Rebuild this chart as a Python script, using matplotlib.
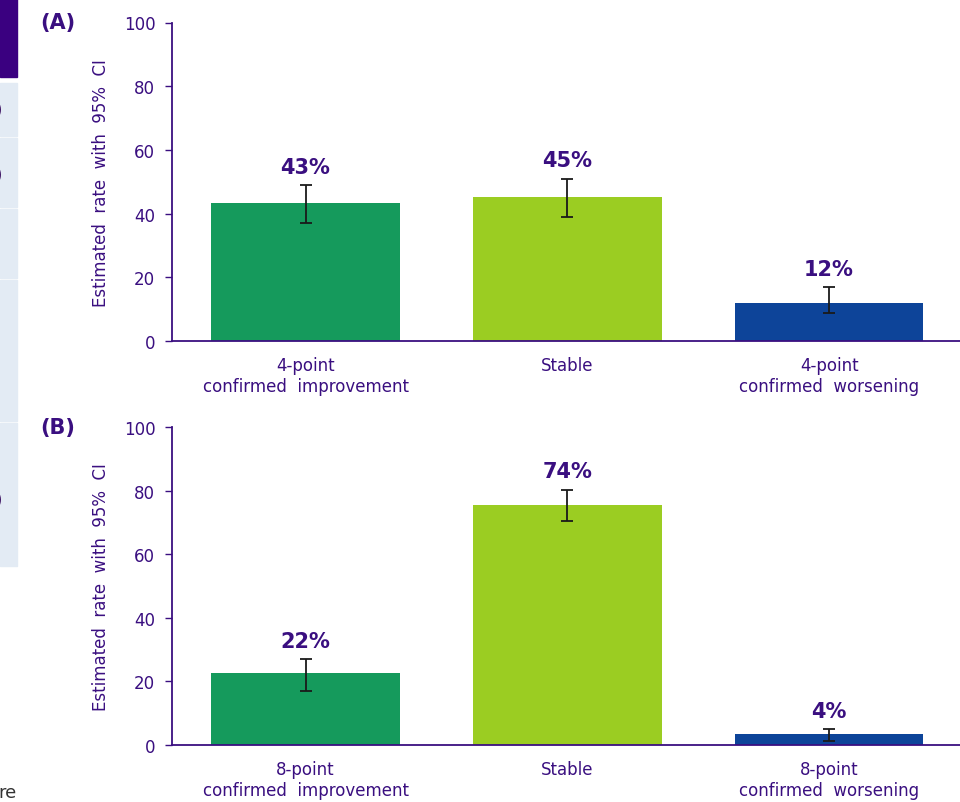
import matplotlib.pyplot as plt
from matplotlib.patches import Rectangle

# data
cats_a = ["4-point\nconfirmed  improvement", "Stable", "4-point\nconfirmed  worsening"]
cats_b = ["8-point\nconfirmed  improvement", "Stable", "8-point\nconfirmed  worsening"]
rate_a = [43.3, 45.2, 11.9]
low_a = [37.0, 39.0, 8.8]
high_a = [49.0, 51.0, 17.0]
lab_a = ["43%", "45%", "12%"]
rate_b = [22.5, 75.5, 3.4]
low_b = [17.0, 70.3, 1.4]
high_b = [27.0, 80.3, 5.0]
lab_b = ["22%", "74%", "4%"]

colors = ["#159a5c", "#9bcd22", "#0d4499"]
purple = "#3a0f80"

plt.rcParams['font.family'] = ['DejaVu Sans']

fig = plt.figure(figsize=(9.6, 8.03), dpi=100)

# fragments of the slide at the left edge
fig.patches.append(Rectangle((0, 1 - 78/803), 17/960, 78/803, transform=fig.transFigure,
                             color="#3a0080", zorder=0))
box_edges = [83, 138, 209, 280, 423, 568]
for i in range(len(box_edges) - 1):
    y0 = box_edges[i] + 1
    y1 = box_edges[i + 1] - 1
    fig.patches.append(Rectangle((0, 1 - y1/803), 17/960, (y1 - y0)/803,
                                 transform=fig.transFigure, color="#e3ebf4", zorder=0))
for yy in [110, 175, 500]:
    fig.text(-6/960, 1 - yy/803, ")", fontsize=14, color="#3a0f60", va="center", ha="left")
fig.text(-2/960, 1 - 793/803, "re", fontsize=13, color="#333333", va="center", ha="left")


def panel(rect, cats, rate, low, high, labels, tag):
    ax = fig.add_axes(rect)
    x = range(len(cats))
    err = [[r - l for r, l in zip(rate, low)], [h - r for r, h in zip(rate, high)]]
    ax.bar(x, rate, width=0.72, color=colors, zorder=2)
    ax.errorbar(x, rate, yerr=err, fmt="none", ecolor="#1a1a1a", elinewidth=1.3,
                capsize=4, capthick=1.3, zorder=3)
    for i, h in enumerate(high):
        ax.annotate(labels[i], (i, h), xytext=(0, 6), textcoords="offset points",
                    ha="center", va="bottom", fontsize=15, fontweight="bold", color=purple)
    ax.set_xlim(-0.51, 2.5)
    ax.set_ylim(0, 100)
    ax.set_yticks([0, 20, 40, 60, 80, 100])
    ax.set_xticks(list(x))
    ax.set_xticklabels(cats, linespacing=1.2)
    ax.tick_params(axis="x", length=0, pad=11, labelsize=12, labelcolor=purple)
    ax.tick_params(axis="y", length=5, width=1, color=purple, labelsize=12,
                   labelcolor=purple, pad=7)
    for s in ["top", "right"]:
        ax.spines[s].set_visible(False)
    for s in ["left", "bottom"]:
        ax.spines[s].set_color(purple)
        ax.spines[s].set_linewidth(1.3)
    ax.set_ylabel("Estimated  rate  with  95%  CI", fontsize=12, color=purple, labelpad=10)
    ax.text(-132/788, 1.0, tag, transform=ax.transAxes, fontsize=15, fontweight="bold",
            color=purple, ha="left", va="center")
    return ax


panel([172/960, 1 - 342/803, 1 - 172/960, (342 - 23.5)/803], cats_a, rate_a, low_a, high_a, lab_a, "(A)")
panel([172/960, 1 - 746/803, 1 - 172/960, (746 - 428)/803], cats_b, rate_b, low_b, high_b, lab_b, "(B)")

fig.savefig("out.png", dpi=100)
